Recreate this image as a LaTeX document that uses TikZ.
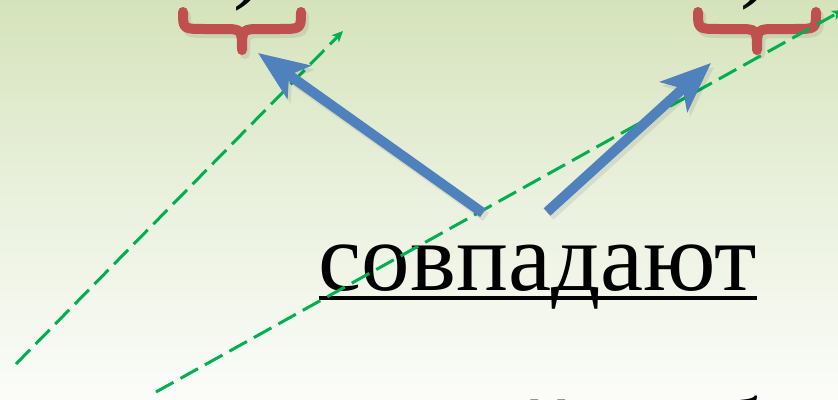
\documentclass[tikz,border=0pt]{standalone}
\usepackage{fontspec}
\setmainfont{Liberation Serif}
\usetikzlibrary{arrows.meta}
\definecolor{bgtop}{RGB}{213,227,187}
\definecolor{bgmid}{RGB}{234,241,222}
\definecolor{bgbot}{RGB}{251,252,249}
\definecolor{arrowblue}{RGB}{79,129,189}
\definecolor{bracered}{RGB}{192,80,77}
\definecolor{dashgreen}{RGB}{0,176,80}
\begin{document}
\begin{tikzpicture}[x=1pt,y=-1pt,
  bluearrow/.style={draw=arrowblue, line width=10pt,
    -{Stealth[length=50pt,width=40pt,inset=12pt,fill=arrowblue]}},
  blueshadow/.style={draw=black, opacity=0.08, line width=10pt,
    -{Stealth[length=50pt,width=40pt,inset=12pt]}},
  greenline/.style={draw=dashgreen, line width=3pt, dash pattern=on 20pt off 8pt,
    -{Stealth[length=11pt,width=10pt,inset=3pt]}},
  bracestyle/.style={draw=bracered, line width=10pt, line cap=round, line join=round},
  braceshadow/.style={draw=black, opacity=0.08, line width=10pt, line cap=round, line join=round},
  bigtext/.style={font=\fontsize{97}{110}\selectfont, inner sep=0pt, anchor=base},
]
\useasboundingbox (0,0) rectangle (838,399);
\shade[top color=bgtop, bottom color=bgbot, middle color=bgmid] (0,0) rectangle (838,399);

% cut-off glyphs at the top and bottom edges
\node[bigtext, anchor=base] (ptl) at (250,-10) {)};
\node[bigtext, anchor=base] (ptr) at (757,-11) {)};
\node[bigtext, anchor=base] (gy) at (548,466) {й};
\node[bigtext, anchor=base] (gb) at (738,465) {б};

% braces
\foreach \dx/\nm in {0/l, 515/r}{
  \begin{scope}[xshift=\dx]
    \draw[braceshadow] (186,16) .. controls (186,33) .. (208,33) -- (225,33)
       .. controls (245,33) .. (245,54) .. controls (245,33) .. (265,33) -- (282,33)
       .. controls (304,33) .. (304,16);
    \draw[bracestyle] (183,12) .. controls (183,29) .. (205,29) -- (222,29)
       .. controls (242,29) .. (242,50) .. controls (242,29) .. (262,29) -- (279,29)
       .. controls (301,29) .. (301,12);
  \end{scope}
}

% main text
\node[bigtext] (word) at (538,290) {совпадают};
\coordinate (ulA) at ([yshift=-8pt]word.base west);
\coordinate (ulB) at ([yshift=-8pt]word.base east);
\draw[line width=4.5pt] (ulA) -- (ulB);

% green dashed lines
\coordinate (g1s) at (16,364);
\coordinate (g1e) at (343,31);
\coordinate (g2s) at (156,392);
\coordinate (g2e) at (843,10);
\draw[greenline] (g1s) -- (g1e);
\draw[greenline] (g2s) -- (g2e);

% blue arrows
\coordinate (a1t) at (483,213);
\coordinate (a1h) at (258,53);
\coordinate (a2t) at (547,212);
\coordinate (a2h) at (711,63);
\draw[blueshadow] ([shift={(3,4)}]a1t) -- ([shift={(3,4)}]a1h);
\draw[blueshadow] ([shift={(3,4)}]a2t) -- ([shift={(3,4)}]a2h);
\draw[bluearrow] (a1t) -- (a1h);
\draw[bluearrow] (a2t) -- (a2h);
\end{tikzpicture}
\end{document}
